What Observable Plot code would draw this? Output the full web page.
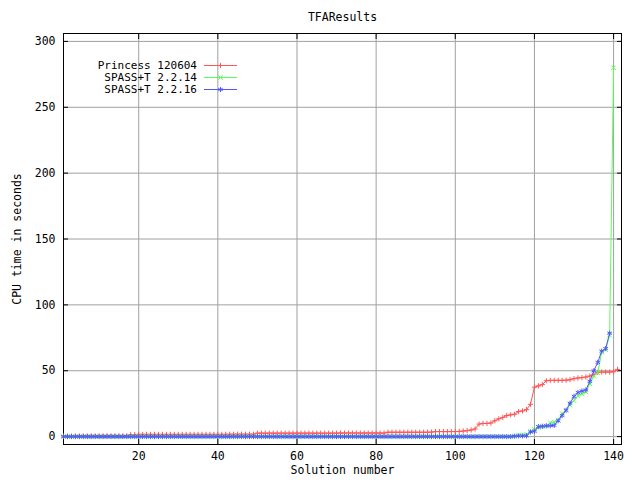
<!DOCTYPE html>
<html><head><meta charset="utf-8">
<script src="https://cdn.jsdelivr.net/npm/d3@7"></script>
<script src="https://cdn.jsdelivr.net/npm/@observablehq/plot@0.6"></script>
<style>body{margin:0;background:#fff}</style>
</head><body><div id="chart"></div>
<script>
const titleText = "TFAResults";
const xLabel = "Solution number";
const yLabel = "CPU time in seconds";
const seriesNames = ["Princess 120604", "SPASS+T 2.2.14", "SPASS+T 2.2.16"];
const seriesColors = ["#ff5555", "#55ff55", "#5555ff"];
const seriesSymbols = ["plus", "times", "asterisk"];
const xTicks = [20, 40, 60, 80, 100, 120, 140];
const yTicks = [0, 50, 100, 150, 200, 250, 300];

// CPU time per solution number (1..n)
const princess = [
 0.4,0.4,0.4,0.5,0.5,0.5,0.5,0.5,0.5,0.5,
 0.5,0.6,0.6,0.6,0.6,0.6,0.6,1.6,1.6,1.7,
 1.7,1.7,1.7,1.7,1.7,1.7,1.7,1.7,1.7,1.7,
 1.7,1.7,1.7,1.7,1.7,1.7,1.7,1.7,1.7,1.7,
 1.7,1.7,1.8,1.8,1.8,1.8,1.8,1.8,1.8,2.6,
 2.6,2.6,2.6,2.6,2.6,2.6,2.6,2.6,2.6,2.6,
 2.6,2.6,2.6,2.6,2.6,2.6,2.6,2.6,2.6,2.6,
 2.7,2.7,2.7,2.7,2.7,2.7,2.7,2.7,2.7,2.7,
 2.7,2.7,3.3,3.3,3.3,3.3,3.3,3.3,3.3,3.3,
 3.3,3.3,3.3,3.4,3.8,3.8,3.8,3.8,3.8,3.8,
 3.9,4.2,4.5,5.0,5.8,9.5,10,10,10.3,12,
 13.5,14.5,16,16.5,17,19,19.5,20.5,24.5,37.5,
 38.5,39.5,42.4,42.7,42.7,42.7,42.7,42.8,43.2,44,
 44.5,44.8,45.2,46,47,48.7,49,49,49,49.2,
 51
];
const spass2214 = [
 0,0,0,0,0,0,0,0,0,0,
 0,0,0,0,0,0,0,0,0,0,
 0,0,0,0,0,0,0,0,0,0,
 0,0,0,0,0,0,0,0,0,0,
 0,0,0,0,0,0,0,0,0,0,
 0,0,0,0,0,0,0,0,0,0,
 0,0,0,0,0,0,0,0,0,0,
 0,0,0,0,0,0,0,0,0,0,
 0,0,0,0,0,0,0,0,0,0,
 0,0,0,0,0,0,0,0,0,0,
 0,0,0,0,0,0,0,0,0,0,
 0,0,0,0,0.3,1.2,1.2,1.5,4,5.5,
 7,7.5,8,10.5,11,12.5,17.5,20,24,27.3,
 31,32.5,34,40,46,48.5,64,66,77,280
];
const spass2216 = [
 0,0,0,0,0,0,0,0,0,0,
 0,0,0,0,0,0,0,0,0,0,
 0,0,0,0,0,0,0,0,0,0,
 0,0,0,0,0,0,0,0,0,0,
 0,0,0,0,0,0,0,0,0,0,
 0,0,0,0,0,0,0,0,0,0,
 0,0,0,0,0,0,0,0,0,0,
 0,0,0,0,0,0,0,0,0,0,
 0,0,0,0,0,0,0,0,0,0,
 0,0,0,0,0,0,0,0,0,0,
 0,0,0,0,0,0,0,0,0,0,
 0,0,0,0,0.3,0.5,0.5,0.6,3.5,4,
 7.6,7.8,8.2,8.3,8.5,12,16,20,25.3,30.5,
 33.5,34.6,35.4,42,50,56.3,64.9,66.8,78.5
];

const seriesValues = [princess, spass2214, spass2216];
const symbolR = [1.8, 2.2, 2.4];
const data = seriesValues.flatMap((vals, s) => vals.map((v, i) => ({series: seriesNames[s], n: i + 1, t: v})));

const font = "DejaVu Sans Mono";
const fontSize = 11.5;
const legendFontSize = 11;

const seriesMarks = seriesNames.flatMap((name, s) => {
  const rows = data.filter(d => d.series === name);
  return [
    Plot.line(rows, {x: "n", y: "t", stroke: seriesColors[s], strokeWidth: 1}),
    Plot.dot(rows, {x: "n", y: "t", symbol: seriesSymbols[s], stroke: seriesColors[s], fill: "none", strokeWidth: 1, r: symbolR[s]})
  ];
});

const chart = Plot.plot({
  width: 640, height: 480,
  marginLeft: 63, marginRight: 19, marginTop: 33, marginBottom: 36,
  style: {fontFamily: font, fontSize: fontSize + "px", background: "white", color: "black"},
  x: {domain: [1, 142]},
  y: {domain: [-6, 306]},
  marks: [
    Plot.gridX(xTicks, {stroke: "#a0a0a0", strokeOpacity: 1}),
    Plot.gridY(yTicks, {stroke: "#a0a0a0", strokeOpacity: 1}),
    Plot.axisX(xTicks, {anchor: "bottom", tickSize: -5, tickPadding: 12, label: null}),
    Plot.axisX(xTicks, {anchor: "top", tickSize: -5, fill: "none", label: null}),
    Plot.axisY(yTicks, {anchor: "left", tickSize: -5, tickPadding: 13, label: null}),
    Plot.axisY(yTicks, {anchor: "right", tickSize: -5, fill: "none", label: null}),
    Plot.frame({stroke: "black"}),
    ...seriesMarks,
    Plot.text([titleText], {frameAnchor: "top", dy: -16, lineAnchor: "middle", textAnchor: "middle"}),
    Plot.text([xLabel], {frameAnchor: "bottom", dy: 26, lineAnchor: "middle", textAnchor: "middle"}),
    Plot.text([yLabel], {frameAnchor: "left", dx: -46, rotate: -90, lineAnchor: "middle", textAnchor: "middle"})
  ]
});

// Legend (gnuplot style, inside the plot at the top left)
const d3Symbols = {plus: d3.symbolPlus, times: d3.symbolTimes, asterisk: d3.symbolAsterisk};
const leg = d3.select(chart).append("g")
  .attr("font-family", font).attr("font-size", legendFontSize + "px");
seriesNames.forEach((name, s) => {
  const y = 65.5 + s * 12;
  leg.append("text").attr("x", 197).attr("y", y).attr("dy", "0.32em")
    .attr("text-anchor", "end").attr("fill", "black").text(name);
  leg.append("line").attr("x1", 204).attr("x2", 237).attr("y1", y).attr("y2", y)
    .attr("stroke", seriesColors[s]).attr("stroke-width", 1);
  leg.append("path").attr("transform", `translate(220.5,${y})`)
    .attr("d", d3.symbol(d3Symbols[seriesSymbols[s]], Math.PI * symbolR[s] * symbolR[s])())
    .attr("stroke", seriesColors[s]).attr("fill", "none").attr("stroke-width", 1);
});

document.getElementById("chart").appendChild(chart);
</script>
</body></html>
